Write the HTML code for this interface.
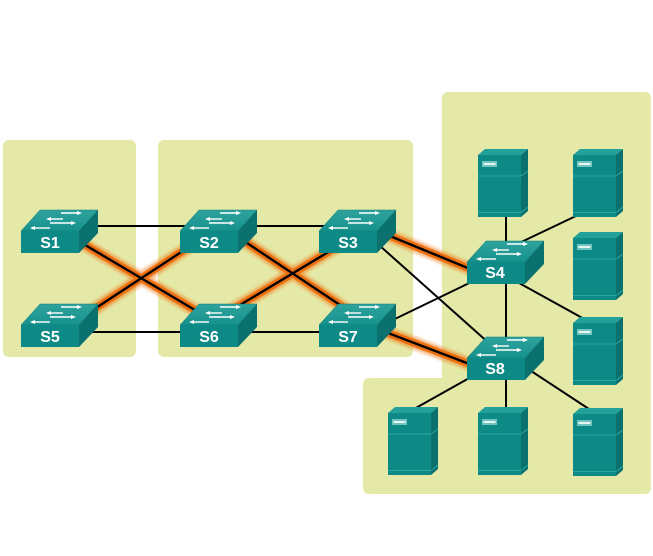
<!DOCTYPE html>
<html><head><meta charset="utf-8"><style>
html,body{margin:0;padding:0;background:#fff;}
svg{display:block;}
text{font-family:"Liberation Sans",Arial,sans-serif;font-weight:bold;font-size:16px;fill:#fff;}
</style></head><body>
<svg width="653" height="556" viewBox="0 0 653 556" xmlns="http://www.w3.org/2000/svg">
<defs>
<filter id="blur" x="-20%" y="-50%" width="140%" height="200%"><feGaussianBlur stdDeviation="1.5"/></filter>
<linearGradient id="topg" x1="0" y1="0" x2="0" y2="1"><stop offset="0" stop-color="#2fa39e"/><stop offset="1" stop-color="#16918c"/></linearGradient>
<g id="sw">
  <polygon points="0,0 58,0 77,-21 19,-21" fill="url(#topg)" stroke="#0b7a76" stroke-width="0.5"/>
  <polygon points="58,0 77,-21 77,2 58,22" fill="#0a716e"/>
  <rect x="0" y="0" width="58" height="22" fill="#0e8a86"/>
  <g stroke="#fff" stroke-width="1.4" fill="#fff">
    <line x1="40" y1="-18" x2="58" y2="-18"/><polygon points="61,-18 56,-20 56,-16" stroke="none"/>
    <line x1="29" y1="-12" x2="42" y2="-12"/><polygon points="25,-12 30,-14 30,-10" stroke="none"/>
    <line x1="29" y1="-8" x2="52" y2="-8"/><polygon points="55,-8 50,-10 50,-6" stroke="none"/>
    <line x1="13" y1="-3" x2="29" y2="-3"/><polygon points="9,-3 14,-5 14,-1" stroke="none"/>
  </g>
</g>
<g id="srv">
  <polygon points="0,0 43,0 50,-6 7,-6" fill="#23a09a"/>
  <polygon points="43,0 50,-6 50,56 43,62" fill="#0a716e"/>
  <rect x="0" y="0" width="43" height="62" fill="#0e8a86"/>
  <line x1="0" y1="21" x2="43" y2="21" stroke="#2aa7a1" stroke-width="1"/>
  <line x1="43" y1="21" x2="50" y2="16" stroke="#2aa7a1" stroke-width="1"/>
  <line x1="0" y1="57.5" x2="43" y2="57.5" stroke="#2aa7a1" stroke-width="1"/>
  <line x1="43" y1="57.5" x2="50" y2="52" stroke="#2aa7a1" stroke-width="1"/>
  <rect x="4" y="6" width="15" height="6" fill="#6fc4bf"/>
  <rect x="5.5" y="8" width="12" height="2" fill="#e8f4f0"/>
</g>
</defs>

<!-- panels -->
<g fill="#e5e9a8">
  <rect x="3" y="140" width="133" height="217" rx="6"/>
  <rect x="158" y="140" width="255" height="217" rx="6"/>
  <rect x="442" y="92" width="209" height="310" rx="6"/>
  <rect x="363" y="378" width="288" height="116" rx="6"/>
</g>

<!-- orange glows -->
<g stroke="#f07818" stroke-linecap="butt" fill="none">
  <g stroke-width="12" opacity="0.6" filter="url(#blur)">
    <line x1="70" y1="236" x2="205" y2="316"/>
    <line x1="70" y1="325" x2="195" y2="243"/>
    <line x1="235" y1="235" x2="355" y2="315"/>
    <line x1="230" y1="311" x2="340" y2="245"/>
    <line x1="385" y1="234" x2="480" y2="273"/>
    <line x1="380" y1="330" x2="480" y2="368"/>
  </g>
  <g stroke-width="7.5" stroke="#ec7012">
    <line x1="70" y1="236" x2="205" y2="316"/>
    <line x1="70" y1="325" x2="195" y2="243"/>
    <line x1="235" y1="235" x2="355" y2="315"/>
    <line x1="230" y1="311" x2="340" y2="245"/>
    <line x1="385" y1="234" x2="480" y2="273"/>
    <line x1="380" y1="330" x2="480" y2="368"/>
  </g>
</g>

<!-- black links -->
<g stroke="#000" stroke-width="2" fill="none">
  <g stroke-width="2.4">
  <line x1="70" y1="236" x2="205" y2="316"/>
  <line x1="70" y1="325" x2="195" y2="243"/>
  <line x1="235" y1="235" x2="355" y2="315"/>
  <line x1="230" y1="311" x2="340" y2="245"/>
  <line x1="385" y1="234" x2="480" y2="273"/>
  <line x1="380" y1="330" x2="480" y2="368"/>
  </g>
  <line x1="60" y1="226" x2="350" y2="226"/>
  <line x1="60" y1="332" x2="350" y2="332"/>
  <line x1="370" y1="237" x2="500" y2="353"/>
  <line x1="370" y1="331" x2="490" y2="273"/>
  <line x1="506" y1="270" x2="506" y2="350"/>
  <line x1="506" y1="210" x2="506" y2="250"/>
  <line x1="515" y1="245" x2="578" y2="215"/>
  <line x1="510" y1="278" x2="586" y2="320"/>
  <line x1="480" y1="372" x2="414" y2="409"/>
  <line x1="506" y1="370" x2="506" y2="416"/>
  <line x1="525" y1="367" x2="592" y2="411"/>
</g>

<!-- servers -->
<use href="#srv" x="478" y="155"/>
<use href="#srv" x="573" y="155"/>
<use href="#srv" x="573" y="238"/>
<use href="#srv" x="573" y="323"/>
<use href="#srv" x="388" y="413"/>
<use href="#srv" x="478" y="413"/>
<use href="#srv" x="573" y="414"/>

<!-- switches -->
<use href="#sw" x="21" y="231"/>
<use href="#sw" x="180" y="231"/>
<use href="#sw" x="319" y="231"/>
<use href="#sw" x="21" y="325"/>
<use href="#sw" x="180" y="325"/>
<use href="#sw" x="319" y="325"/>
<use href="#sw" x="467" y="262"/>
<use href="#sw" x="467" y="358"/>

<text x="50" y="248" text-anchor="middle">S1</text>
<text x="209" y="248" text-anchor="middle">S2</text>
<text x="348" y="248" text-anchor="middle">S3</text>
<text x="50" y="342" text-anchor="middle">S5</text>
<text x="209" y="342" text-anchor="middle">S6</text>
<text x="348" y="342" text-anchor="middle">S7</text>
<text x="495" y="278" text-anchor="middle">S4</text>
<text x="495" y="374" text-anchor="middle">S8</text>
</svg>
</body></html>
